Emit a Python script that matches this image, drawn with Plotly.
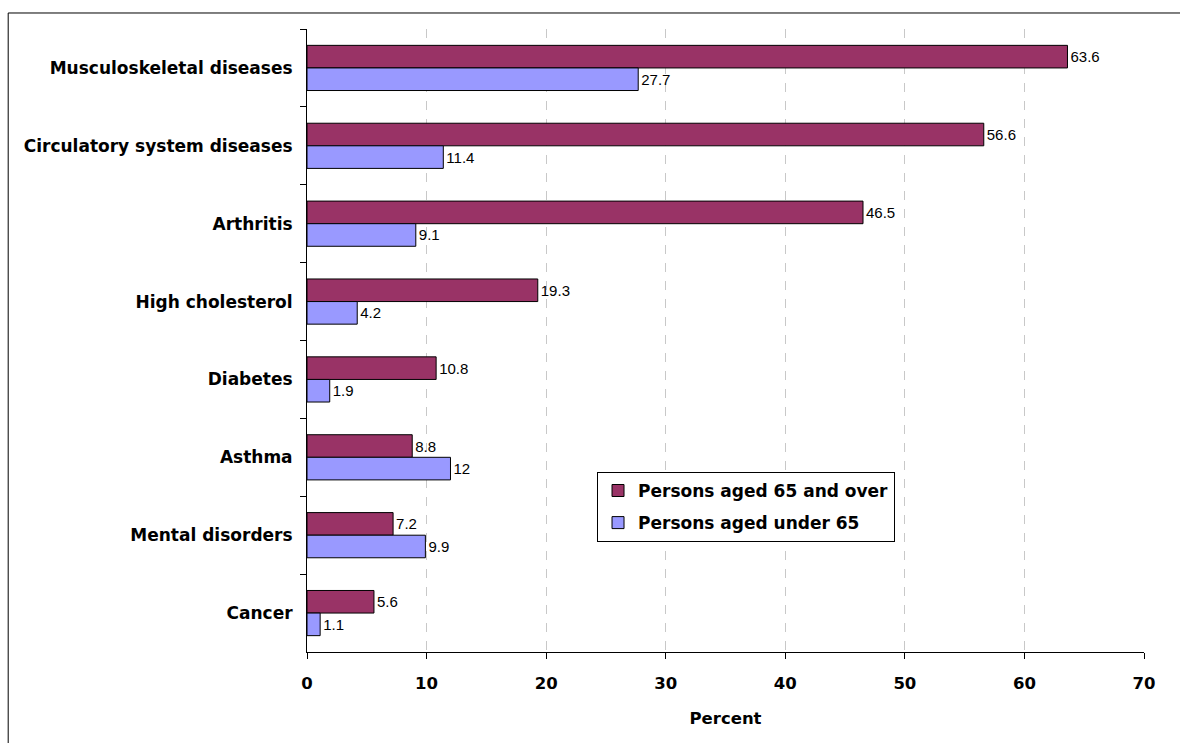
import plotly.graph_objects as go

categories = ["Musculoskeletal diseases", "Circulatory system diseases", "Arthritis",
              "High cholesterol", "Diabetes", "Asthma", "Mental disorders", "Cancer"]
aged_65_over = [63.6, 56.6, 46.5, 19.3, 10.8, 8.8, 7.2, 5.6]
aged_under_65 = [27.7, 11.4, 9.1, 4.2, 1.9, 12, 9.9, 1.1]
x_ticks = [0, 10, 20, 30, 40, 50, 60, 70]

FONT = "Liberation Sans, Arial, sans-serif"
BFONT = "DejaVu Sans, sans-serif"

fig = go.Figure()
fig.add_trace(go.Bar(
    y=categories, x=aged_65_over, orientation="h", name="Persons aged 65 and over",
    legendgroup="a",
    marker=dict(color="#993366", line=dict(color="black", width=1)),
    text=[str(v) for v in aged_65_over], textposition="outside",
    textfont=dict(family=FONT, size=15, color="black"), cliponaxis=False,
))
fig.add_trace(go.Bar(
    y=categories, x=aged_under_65, orientation="h", name="Persons aged under 65",
    legendgroup="b",
    marker=dict(color="#9999FF", line=dict(color="black", width=1)),
    text=[str(v) for v in aged_under_65], textposition="outside",
    textfont=dict(family=FONT, size=15, color="black"), cliponaxis=False,
))

fig.update_layout(
    width=1180, height=743,
    margin=dict(l=307, r=36, t=29, b=91),
    paper_bgcolor="white", plot_bgcolor="white",
    barmode="group", bargap=0.42, bargroupgap=0,
    font=dict(family=FONT, size=15, color="black"),
    legend=dict(
        x=0.3465, y=0.289, xanchor="left", yanchor="top",
        bordercolor="black", borderwidth=1, bgcolor="white",
        font=dict(family=BFONT, size=17, color="black", weight="bold"),
        traceorder="grouped", tracegroupgap=7, itemwidth=30,
    ),
    xaxis=dict(
        range=[0, 70], tickvals=x_ticks, ticktext=[str(t) for t in x_ticks],
        showgrid=True, gridcolor="#c8c8c8", griddash="dash", gridwidth=1,
        showline=True, linecolor="black", linewidth=1,
        ticks="outside", ticklen=6, tickcolor="black",
        tickfont=dict(family=BFONT, size=16.5, weight="bold"),
        ticklabelstandoff=10,
        title=dict(text="Percent", font=dict(family=BFONT, size=16.5, weight="bold"), standoff=20),
        zeroline=False, fixedrange=True,
    ),
    yaxis=dict(
        categoryorder="array", categoryarray=categories, autorange="reversed",
        showline=True, linecolor="black", linewidth=1,
        ticks="outside", ticklen=6, tickcolor="black", tickson="boundaries",
        tickfont=dict(family=BFONT, size=17, weight="bold"),
        showgrid=False, ticklabelstandoff=10,
    ),
    shapes=[
        dict(type="line", xref="paper", yref="paper", x0=-0.357, x1=-0.357, y0=1.0257, y1=-0.2,
             line=dict(color="black", width=1)),
        dict(type="line", xref="paper", yref="paper", x0=-0.357, x1=1.1, y0=1.0257, y1=1.0257,
             line=dict(color="black", width=1)),
    ],
)

fig.write_html("out.html")
